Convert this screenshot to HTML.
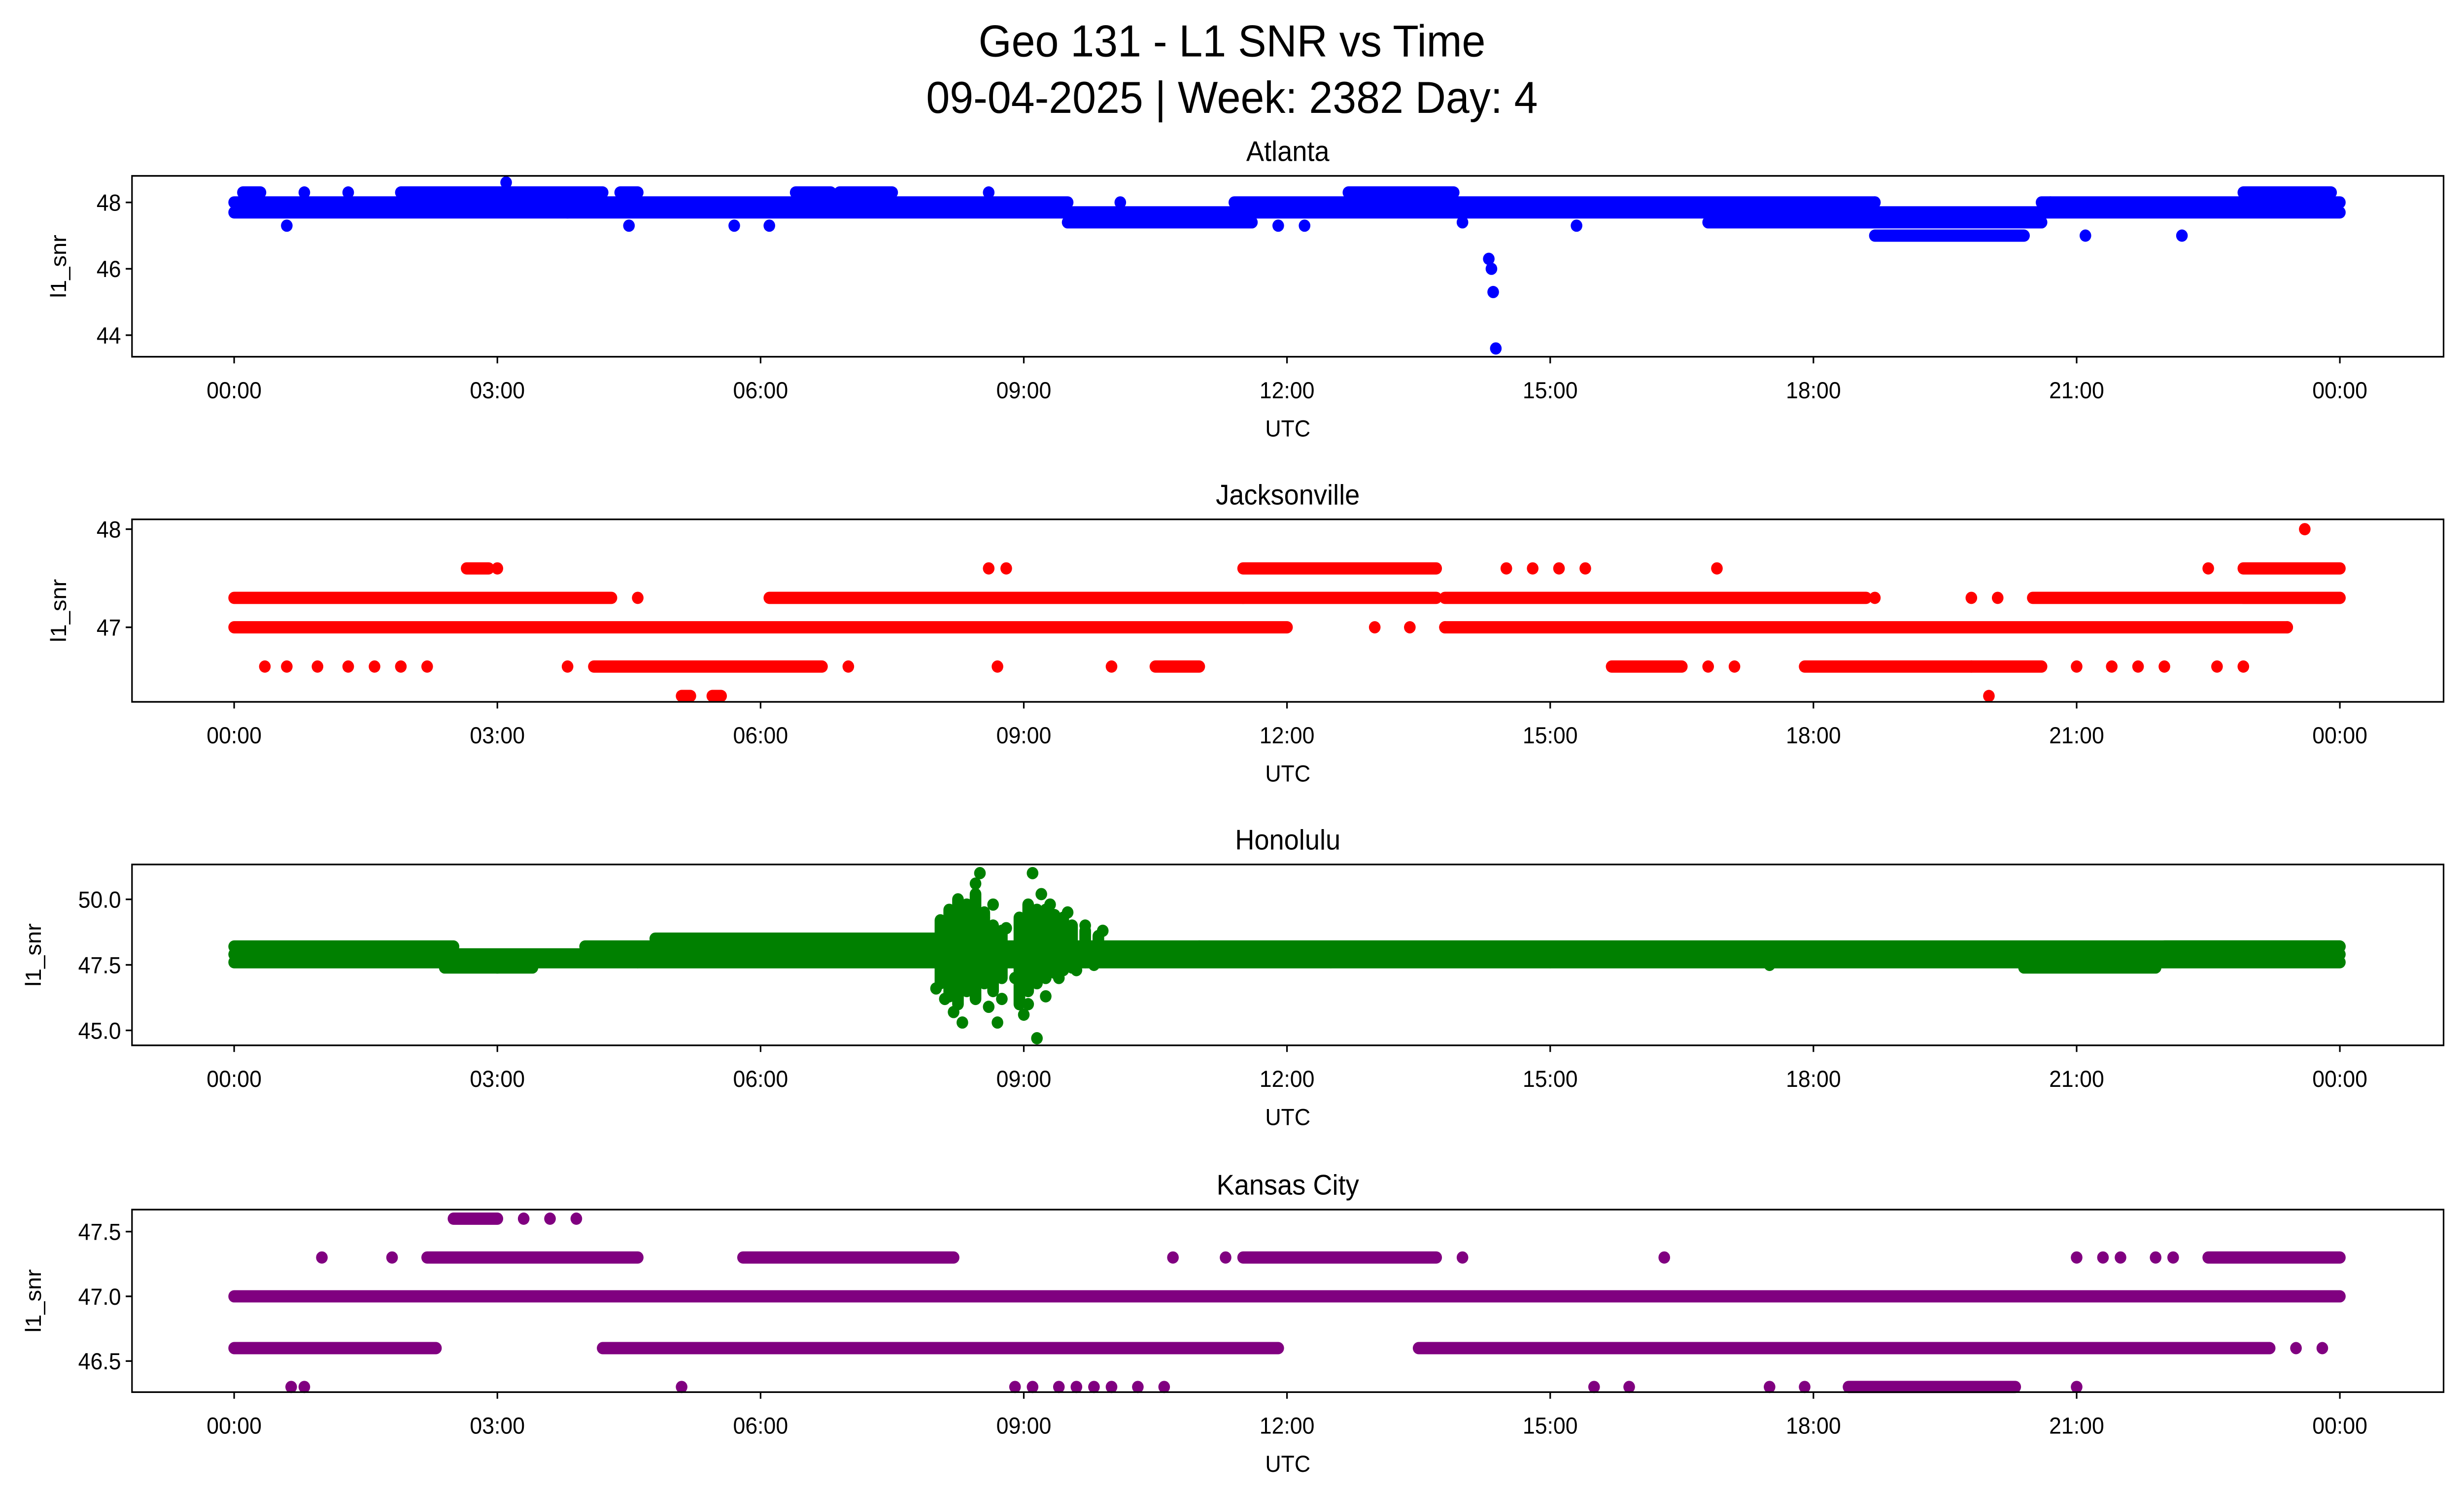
<!DOCTYPE html>
<html><head><meta charset="utf-8"><style>
html,body{margin:0;padding:0;background:#fff;overflow:hidden;width:100%;height:100%}
svg{display:block;font-family:"Liberation Sans","DejaVu Sans",sans-serif;width:100vw;height:100vh}
</style></head><body>
<svg id="chart" viewBox="0 0 1568 901" preserveAspectRatio="none" xmlns="http://www.w3.org/2000/svg">
<rect width="1568" height="901" fill="#fff"/>
<text x="784" y="34" font-size="27" text-anchor="middle">Geo 131 - L1 SNR vs Time</text>
<text x="784" y="68" font-size="27" text-anchor="middle">09-04-2025 | Week: 2382 Day: 4</text>
<g id="panels"></g>
</svg>
<script>
// x tick labels (hours)
const xTickHours = [0,3,6,9,12,15,18,21,24];
const xTickLabels = ["00:00","03:00","06:00","09:00","12:00","15:00","18:00","21:00","00:00"];

// runs [level, startHour, endHour]; points [hour, level]; spreads [hour, low, high]
const atlRuns = [[47.7,0,9.5],[48.0,0,9.5],[48.3,0.1,0.3],[48.3,1.9,4.2],[48.3,4.4,4.6],[48.3,6.4,6.8],[48.3,6.9,7.5],
 [47.4,9.5,11.6],[47.7,9.5,11.6],[48.0,11.4,18.7],[47.7,11.4,18.7],[48.3,12.7,13.9],[47.4,16.8,18.7],
 [47.4,18.7,20.6],[47.0,18.7,20.4],[47.7,18.7,20.6],[47.7,20.6,24],[48.0,20.6,24],[48.3,22.9,23.9]];
const atlPoints = [[0.6,47.3],[3.1,48.6],[5.7,47.3],[4.5,47.3],[6.1,47.3],[0.8,48.3],[1.3,48.3],[8.6,48.3],[10.1,48.0],[11.9,47.3],[12.2,47.3],[14.3,46.3],[14.33,46.0],[14.35,45.3],[14.38,43.6],[15.3,47.3],[18.7,48.0],[21.1,47.0],[22.2,47.0],[20.7,48.0],[3.8,47.7],[14.0,47.4]];
const atlSpreads = [];

const jaxRuns = [[47.0,0,12.0],[47.0,13.8,23.4],[47.3,0,4.3],[47.3,6.1,11.5],[47.3,11.5,13.7],[47.3,13.8,18.6],[47.3,20.5,24],[47.3,22.9,24],
 [47.6,11.5,13.7],[47.6,22.9,24],[47.6,2.65,2.9],[46.6,4.1,6.7],[46.6,15.7,16.5],[46.6,17.9,20.6],[46.6,10.5,11.0],[46.3,5.1,5.2],[46.3,5.45,5.55]];
const jaxPoints = [[0.35,46.6],[0.6,46.6],[0.95,46.6],[1.3,46.6],[1.6,46.6],[1.9,46.6],[2.2,46.6],[3.0,47.6],[3.8,46.6],[4.6,47.3],[7.0,46.6],[8.6,47.6],[8.8,47.6],[8.7,46.6],[10.0,46.6],[13.0,47.0],[13.4,47.0],[13.8,47.0],[14.5,47.6],[14.8,47.6],[15.1,47.6],[15.4,47.6],[16.9,47.6],[16.8,46.6],[17.1,46.6],[18.7,47.3],[19.8,47.3],[20.1,47.3],[20.0,46.3],[21.0,46.6],[21.4,46.6],[21.7,46.6],[22.0,46.6],[22.6,46.6],[22.9,46.6],[22.5,47.6],[23.4,47.0],[23.6,48.0],[19.8,46.6]];
const jaxSpreads = [];

const honRuns = [[47.6,0,24],[47.9,0,24],[48.2,0,2.5],[47.4,2.4,3.4],[48.2,4.0,11.0],[48.5,4.8,8.0],[48.2,11.0,24],[47.9,8,11],[47.4,20.4,21.9],[48.2,22.0,24]];
const honPoints = [[8.0,46.6],[8.1,46.2],[8.2,45.7],[8.3,45.3],[8.4,49.7],[8.45,50.6],[8.5,51.0],[8.6,45.9],[8.7,45.3],[8.75,46.2],[8.2,49.0],[8.35,48.9],[8.55,49.3],[8.8,48.9],[8.9,47.0],[9.0,45.6],[9.05,46.0],[9.1,51.0],[9.15,44.7],[9.2,50.2],[9.3,49.8],[9.4,47.0],[9.5,49.5],[9.6,47.3],[9.7,49.0],[9.8,47.5],[9.9,48.8],[8.25,47.2],[8.65,49.8],[9.25,46.3],[3.0,47.4],[4.6,47.6],[12.5,47.6],[15.0,47.6],[17.5,47.5]];
const honSpreads = [[8.05,46.8,49.2],[8.15,46.3,49.6],[8.25,46.0,50.0],[8.35,46.5,49.8],[8.45,46.2,50.2],[8.55,46.8,49.5],[8.65,46.5,49.0],[8.75,47.0,48.8],[8.95,46.0,49.3],[9.05,46.5,49.8],[9.15,46.8,49.6],[9.25,47.0,49.6],[9.35,47.2,49.4],[9.45,47.3,49.3],[9.55,47.4,49.0],[9.7,47.6,48.8],[9.85,47.6,48.6]];

const kcRuns = [[47.0,0,24],[46.6,0,2.3],[46.6,4.2,11.9],[46.6,13.5,23.2],[47.3,2.2,4.6],[47.3,5.8,8.2],[47.3,11.5,13.7],[47.3,22.5,24],[47.6,2.5,3.0],[46.3,18.4,20.3]];
const kcPoints = [[0.65,46.3],[0.8,46.3],[1.0,47.3],[1.8,47.3],[3.3,47.6],[3.6,47.6],[3.9,47.6],[5.1,46.3],[8.9,46.3],[9.1,46.3],[9.4,46.3],[9.6,46.3],[9.8,46.3],[10.0,46.3],[10.3,46.3],[10.6,46.3],[10.7,47.3],[11.3,47.3],[14.0,47.3],[15.5,46.3],[15.9,46.3],[16.3,47.3],[17.5,46.3],[17.9,46.3],[21.0,46.3],[21.0,47.3],[21.3,47.3],[21.5,47.3],[21.9,47.3],[22.1,47.3],[23.5,46.6],[23.8,46.6]];
const kcSpreads = [];

const panels = [
 {name:"atlanta",title:"Atlanta",top:106,bottom:215,ymin:43.35,ymax:48.8,ticks:[44,46,48],labels:["44","46","48"],color:"#0000ff",runs:atlRuns,points:atlPoints,spreads:atlSpreads},
 {name:"jacksonville",title:"Jacksonville",top:313,bottom:423,ymin:46.24,ymax:48.1,ticks:[47,48],labels:["47","48"],color:"#ff0000",runs:jaxRuns,points:jaxPoints,spreads:jaxSpreads},
 {name:"honolulu",title:"Honolulu",top:521,bottom:630,ymin:44.43,ymax:51.33,ticks:[45,47.5,50],labels:["45.0","47.5","50.0"],color:"#008000",runs:honRuns,points:honPoints,spreads:honSpreads},
 {name:"kansas-city",title:"Kansas City",top:729,bottom:839,ymin:46.26,ymax:47.67,ticks:[46.5,47,47.5],labels:["46.5","47.0","47.5"],color:"#800080",runs:kcRuns,points:kcPoints,spreads:kcSpreads}
];
const NS="http://www.w3.org/2000/svg";
const L=84,R=1555,X0=149,X1=1489;
function xs(h){return X0+(X1-X0)*h/24;}
function mk(tag,attrs,parent){const e=document.createElementNS(NS,tag);for(const k in attrs)e.setAttribute(k,attrs[k]);parent.appendChild(e);return e;}
const root=document.getElementById('panels');
panels.forEach(p=>{
 const ys=v=>p.bottom-(v-p.ymin)/(p.ymax-p.ymin)*(p.bottom-p.top);
 const g=mk('g',{},root);
 
 
 const t=mk('text',{x:(L+R)/2,y:p.top-9,'font-size':17,'text-anchor':'middle'},g);t.textContent=p.title;
 
 
 p.runs.forEach(r=>{
  const ln=mk('line',{x1:xs(r[1]),x2:xs(r[2]),y1:ys(r[0]),y2:ys(r[0]),stroke:p.color,'stroke-width':7.4,'stroke-linecap':'round'},g);
  
  
 });
 p.spreads.forEach(s=>{
  const ln=mk('line',{x1:xs(s[0]),x2:xs(s[0]),y1:ys(s[1]),y2:ys(s[2]),stroke:p.color,'stroke-width':7.4,'stroke-linecap':'round'},g);
  
  
 });
 p.points.forEach(pt=>{
  const c=mk('circle',{cx:xs(pt[0]),cy:ys(pt[1]),r:3.7,fill:p.color},g);
  
  
 });
 const fr=mk('rect',{x:L,y:p.top,width:R-L,height:p.bottom-p.top,fill:'none',stroke:'#000','stroke-width':1},g);
 
 
 p.ticks.forEach((v,i)=>{
  const y=ys(v);
  mk('line',{x1:L-4,x2:L,y1:y,y2:y,stroke:'#000','stroke-width':1},g);
  const tl=mk('text',{x:L-7,y:y+5,'font-size':14,'text-anchor':'end'},g);tl.textContent=p.labels[i];
  
  
 });
 xTickHours.forEach((h,i)=>{
  const x=xs(h);
  mk('line',{x1:x,x2:x,y1:p.bottom,y2:p.bottom+4,stroke:'#000','stroke-width':1},g);
  const tl=mk('text',{x:x,y:p.bottom+25,'font-size':14,'text-anchor':'middle'},g);tl.textContent=xTickLabels[i];
  
  
 });
 const xl=mk('text',{x:(L+R)/2,y:p.bottom+48,'font-size':14,'text-anchor':'middle'},g);xl.textContent='UTC';
 
 
 const cy=(p.top+p.bottom)/2;
 const yl=mk('text',{x:0,y:0,'font-size':14,'text-anchor':'middle',transform:`translate(${p.name==='atlanta'||p.name==='jacksonville'?42:26},${cy}) rotate(-90)`},g);yl.textContent='l1_snr';
 
 
});
</script>
</body></html>
